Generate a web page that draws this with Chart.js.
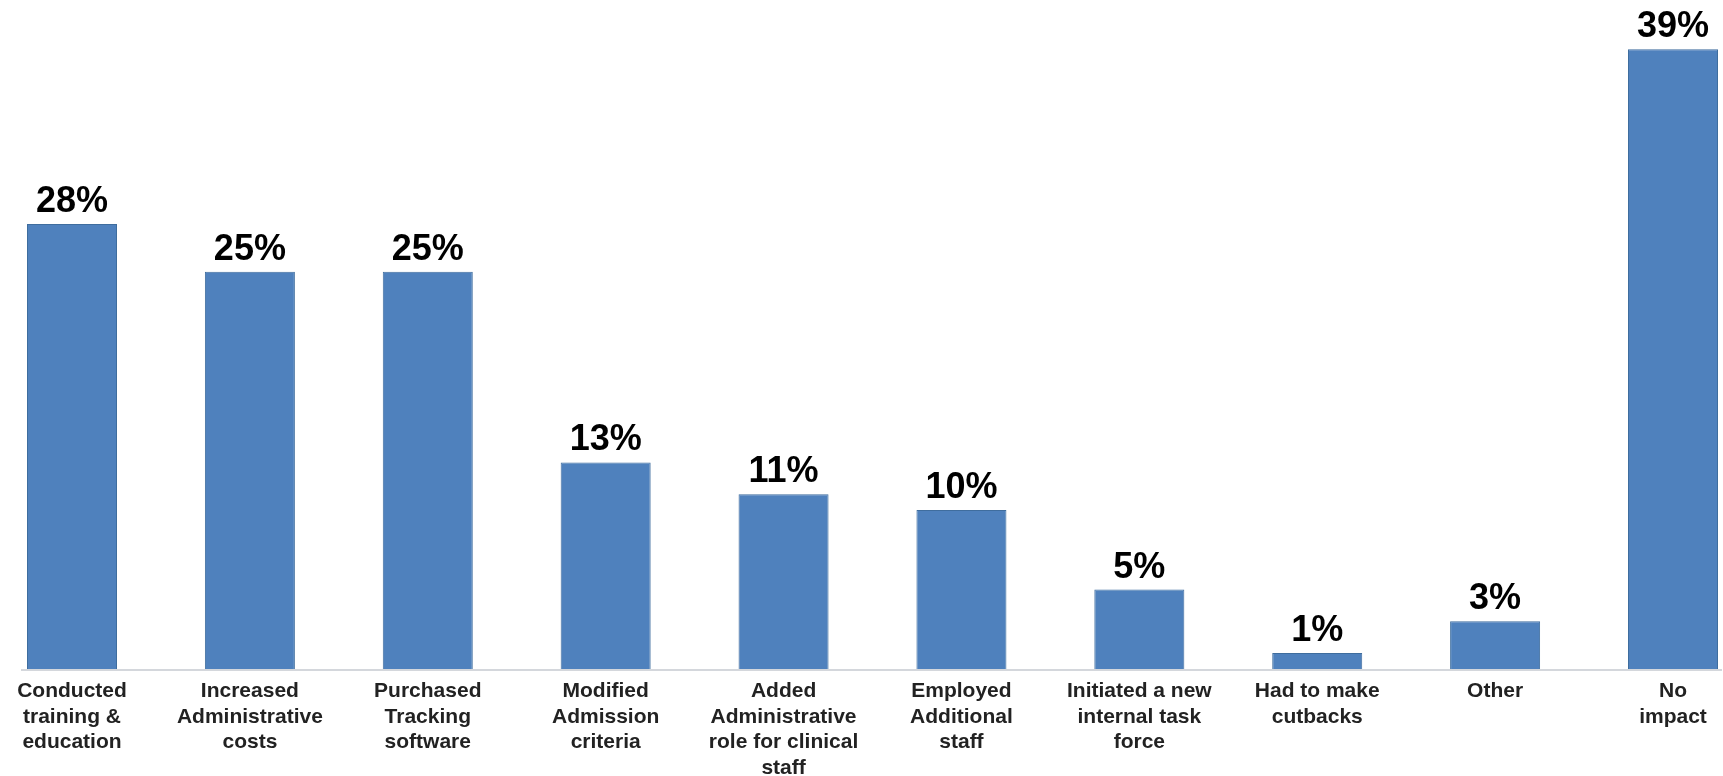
<!DOCTYPE html>
<html>
<head>
<meta charset="utf-8">
<script src="https://cdn.jsdelivr.net/npm/chart.js@4/dist/chart.umd.min.js"></script>
<style>
  html, body { margin: 0; padding: 0; background: #ffffff; }
  #wrap { width: 1723px; height: 776px; position: relative; }
</style>
</head>
<body>
<div id="wrap"><canvas id="chart"></canvas></div>
<script>
// Survey responses: share of respondents reporting each impact (%)
const categories = [
  ['Conducted', 'training &', 'education'],
  ['Increased', 'Administrative', 'costs'],
  ['Purchased', 'Tracking', 'software'],
  ['Modified', 'Admission', 'criteria'],
  ['Added', 'Administrative', 'role for clinical', 'staff'],
  ['Employed', 'Additional', 'staff'],
  ['Initiated a new', 'internal task', 'force'],
  ['Had to make', 'cutbacks'],
  ['Other'],
  ['No', 'impact']
];
const percentValues = [28, 25, 25, 13, 11, 10, 5, 1, 3, 39];

const FONT = "'Liberation Sans', Arial, sans-serif";

// Value labels above each bar
const barValueLabels = {
  id: 'barValueLabels',
  afterDatasetsDraw(chart) {
    const ctx = chart.ctx;
    const meta = chart.getDatasetMeta(0);
    ctx.save();
    ctx.font = 'bold 36px ' + FONT;
    ctx.fillStyle = '#000000';
    ctx.textAlign = 'center';
    ctx.textBaseline = 'alphabetic';
    meta.data.forEach((bar, i) => {
      ctx.fillText(percentValues[i] + '%', bar.x, bar.y - 12);
    });
    ctx.restore();
  }
};

// Baseline under the bars, running the full width of the plot
const baseLine = {
  id: 'baseLine',
  beforeDatasetsDraw(chart) {
    const ctx = chart.ctx;
    const y = chart.scales.y.getPixelForValue(0);
    ctx.save();
    ctx.strokeStyle = '#D4D7DC';
    ctx.lineWidth = 2;
    ctx.beginPath();
    ctx.moveTo(21, y + 1);
    ctx.lineTo(1722, y + 1);
    ctx.stroke();
    ctx.restore();
  }
};

new Chart(document.getElementById('chart'), {
  type: 'bar',
  data: {
    labels: categories,
    datasets: [{
      data: percentValues,
      backgroundColor: '#4F81BD',
      borderColor: '#3F6D9E',
      borderWidth: 1,
      borderSkipped: 'bottom',
      categoryPercentage: 1.0,
      barPercentage: 0.506,
      clip: false
    }]
  },
  options: {
    responsive: true,
    maintainAspectRatio: false,
    animation: false,
    layout: { padding: { left: 72, right: 50, top: 0, bottom: 0 } },
    plugins: {
      legend: { display: false },
      tooltip: { enabled: false }
    },
    scales: {
      x: {
        offset: false,
        grid: { display: false },
        border: { display: false },
        afterFit(scale) { scale.height = 107; },
        ticks: {
          autoSkip: false,
          maxRotation: 0,
          minRotation: 0,
          padding: 1,
          color: '#222222',
          font: { family: FONT, size: 21, weight: 'bold', lineHeight: 1.23 }
        }
      },
      y: {
        display: false,
        min: 0,
        max: 42.1
      }
    }
  },
  plugins: [baseLine, barValueLabels]
});
</script>
</body>
</html>
